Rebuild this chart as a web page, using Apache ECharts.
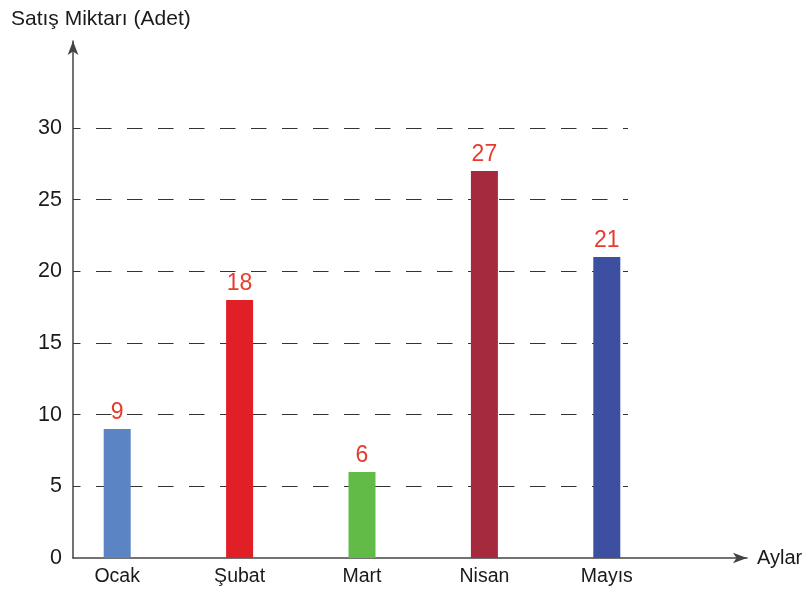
<!DOCTYPE html>
<html>
<head>
<meta charset="utf-8">
<script src="https://cdn.jsdelivr.net/npm/echarts@6/dist/echarts.min.js"></script>
<style>html,body{margin:0;padding:0;background:#fff;}#c{width:808px;height:591px;}</style>
</head>
<body>
<div id="c"></div>
<script>
const months = ['Ocak', 'Şubat', 'Mart', 'Nisan', 'Mayıs'];
const sales = [9, 18, 6, 27, 21];
const barColors = ['#5b84c4', '#e01f27', '#62bb46', '#a62a3d', '#3c4fa0'];
const yTitle = 'Satış Miktarı (Adet)';
const xTitle = 'Aylar';
const yMin = 0, yMax = 30, yStep = 5;

const FONT = '"Liberation Sans", Arial, sans-serif';
const chart = echarts.init(document.getElementById('c'));
chart.setOption({
  animation: false,
  title: {
    text: yTitle, left: 6, top: 4,
    textStyle: { fontFamily: FONT, fontSize: 21, fontWeight: 'normal', color: '#1a1a1a' }
  },
  grid: [
    { left: 73, right: 61, top: 41, bottom: 33 },   // axes with arrows
    { left: 73, right: 180, top: 128, bottom: 33 }, // dashed grid + y labels
    { left: 56, right: 140, top: 128, bottom: 33 }  // bars
  ],
  xAxis: [
    { gridIndex: 0, type: 'value', min: 0, max: 1,
      axisLine: { show: true, symbol: ['none', 'arrow'], symbolSize: [8, 14], lineStyle: { color: '#444', width: 1.5 } },
      axisTick: { show: false }, axisLabel: { show: false }, splitLine: { show: false },
      name: xTitle, nameLocation: 'end', nameGap: 10,
      nameTextStyle: { fontFamily: FONT, fontSize: 20, color: '#1a1a1a', verticalAlign: 'middle' } },
    { gridIndex: 1, type: 'value', min: 0, max: 1, show: false },
    { gridIndex: 2, type: 'category', data: months,
      axisLine: { show: false }, axisTick: { show: false },
      axisLabel: { margin: 9, fontFamily: FONT, fontSize: 19.5, color: '#1a1a1a' } }
  ],
  yAxis: [
    { gridIndex: 0, type: 'value', min: 0, max: 1,
      axisLine: { show: true, symbol: ['none', 'arrow'], symbolSize: [8, 14], lineStyle: { color: '#444', width: 1.5 } },
      axisTick: { show: false }, axisLabel: { show: false }, splitLine: { show: false } },
    { gridIndex: 1, type: 'value', min: yMin, max: yMax, interval: yStep,
      axisLine: { show: false }, axisTick: { show: false },
      axisLabel: { margin: 11, fontFamily: FONT, fontSize: 21.5, color: '#1a1a1a' },
      splitLine: { show: true, showMinLine: false,
        lineStyle: { color: '#333', width: 1.2, type: [15.5, 15.5], dashOffset: 8 } } },
    { gridIndex: 2, type: 'value', min: yMin, max: yMax, show: false }
  ],
  series: [{
    type: 'bar', xAxisIndex: 2, yAxisIndex: 2,
    barWidth: 27,
    data: sales.map((v, i) => ({ value: v, itemStyle: { color: barColors[i] } })),
    label: { show: true, position: 'top', distance: 5,
      fontFamily: FONT, fontSize: 23, color: '#e63c2e' }
  }]
});
</script>
</body>
</html>
